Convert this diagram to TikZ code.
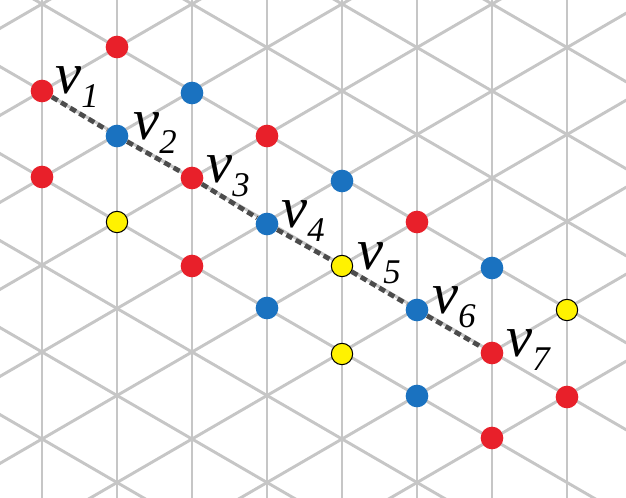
\documentclass[tikz,border=0pt]{standalone}
\usepackage{fontspec}
\setmainfont{Liberation Serif}
\definecolor{myred}{HTML}{E8202A}
\definecolor{myblue}{HTML}{1A72C0}
\definecolor{myyel}{HTML}{FFF200}
\begin{document}
\begin{tikzpicture}[x=0.75pt,y=-0.75pt,
  grid/.style={draw=gray!45,line width=2.2pt},
  rd/.style={circle,fill=myred,minimum size=17pt,inner sep=0pt},
  bl/.style={circle,fill=myblue,minimum size=17pt,inner sep=0pt},
  yl/.style={circle,fill=myyel,draw=black,line width=0.8pt,minimum size=16pt,inner sep=0pt},
  lab/.style={anchor=base west,inner sep=0pt,font=\fontsize{44}{44}\selectfont\itshape}]
\useasboundingbox (0,0) rectangle (626,498);
\begin{scope}
\clip (0,0) rectangle (626,498);
\foreach \i in {0,...,7} \draw[grid] (42+75*\i,-10) -- (42+75*\i,510);
\foreach \k in {-7,...,7} {
  \draw[grid] (-100,{8.64+87*\k}) -- (700,{472.6+87*\k});
  \draw[grid] (-100,{173.36+87*\k}) -- (700,{-290.6+87*\k});
}
\end{scope}
\node[rd] (v1) at (42,91) {};
\node[bl] (v2) at (117,136) {};
\node[rd] (v3) at (192,178) {};
\node[bl] (v4) at (267,224) {};
\node[yl] (v5) at (342,266) {};
\node[bl] (v6) at (417,310) {};
\node[rd] (v7) at (492,353) {};
\draw[gray!60!black,line width=3.5pt,dash pattern=on 5pt off 3pt] (v1)--(v2)--(v3)--(v4)--(v5)--(v6)--(v7);
\node[rd] (r1) at (117,47) {};
\node[rd] (r2) at (267,136) {};
\node[rd] (r3) at (42,177) {};
\node[rd] (r4) at (417,222) {};
\node[rd] (r5) at (192,266) {};
\node[rd] (r6) at (567,397) {};
\node[rd] (r7) at (492,438) {};
\node[bl] (b1) at (192,93) {};
\node[bl] (b2) at (342,181) {};
\node[bl] (b3) at (492,268) {};
\node[bl] (b4) at (267,308) {};
\node[bl] (b5) at (417,396) {};
\node[yl] (y1) at (117,222) {};
\node[yl] (y2) at (567,310) {};
\node[yl] (y3) at (342,354) {};
\foreach \p/\t in {{55,94}/1,{133,140}/2,{206,183}/3,{281,228}/4,{357,270}/5,{432,314}/6,{506,357}/7}
  \node[lab] at (\p) {v\raisebox{-10pt}{\fontsize{26}{26}\selectfont\t}};
\end{tikzpicture}
\end{document}
